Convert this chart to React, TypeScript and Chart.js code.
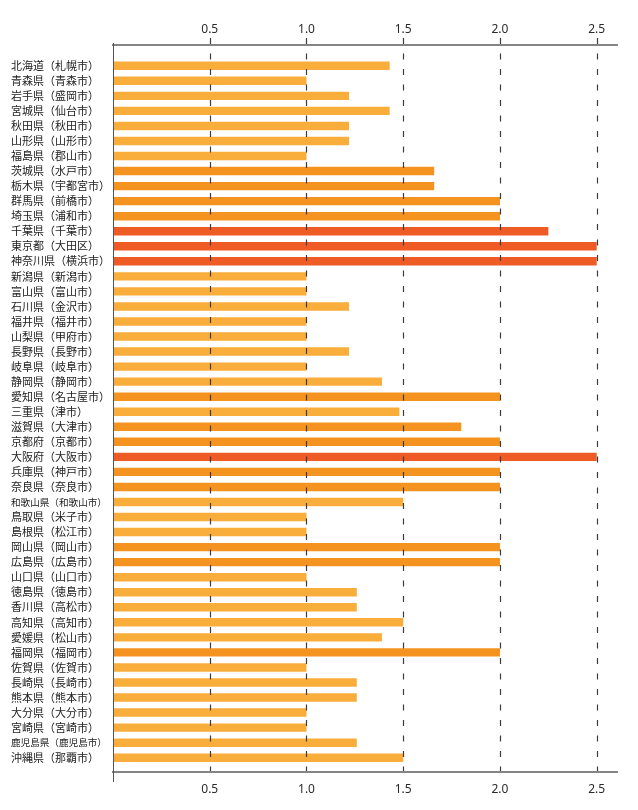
import React, { useEffect, useRef } from "react";
import { Chart, registerables } from "chart.js";

Chart.register(...registerables);

const prefectures: string[] = [
  "北海道（札幌市）", "青森県（青森市）", "岩手県（盛岡市）", "宮城県（仙台市）", "秋田県（秋田市）",
  "山形県（山形市）", "福島県（郡山市）", "茨城県（水戸市）", "栃木県（宇都宮市）", "群馬県（前橋市）",
  "埼玉県（浦和市）", "千葉県（千葉市）", "東京都（大田区）", "神奈川県（横浜市）", "新潟県（新潟市）",
  "富山県（富山市）", "石川県（金沢市）", "福井県（福井市）", "山梨県（甲府市）", "長野県（長野市）",
  "岐阜県（岐阜市）", "静岡県（静岡市）", "愛知県（名古屋市）", "三重県（津市）", "滋賀県（大津市）",
  "京都府（京都市）", "大阪府（大阪市）", "兵庫県（神戸市）", "奈良県（奈良市）", "和歌山県（和歌山市）",
  "鳥取県（米子市）", "島根県（松江市）", "岡山県（岡山市）", "広島県（広島市）", "山口県（山口市）",
  "徳島県（徳島市）", "香川県（高松市）", "高知県（高知市）", "愛媛県（松山市）", "福岡県（福岡市）",
  "佐賀県（佐賀市）", "長崎県（長崎市）", "熊本県（熊本市）", "大分県（大分市）", "宮崎県（宮崎市）",
  "鹿児島県（鹿児島市）", "沖縄県（那覇市）",
];

const values: number[] = [
  1.43, 1.0, 1.22, 1.43, 1.22,
  1.22, 1.0, 1.66, 1.66, 2.0,
  2.0, 2.25, 2.5, 2.5, 1.0,
  1.0, 1.22, 1.0, 1.0, 1.22,
  1.0, 1.39, 2.0, 1.48, 1.8,
  2.0, 2.5, 2.0, 2.0, 1.5,
  1.0, 1.0, 2.0, 2.0, 1.0,
  1.26, 1.26, 1.5, 1.39, 2.0,
  1.0, 1.26, 1.26, 1.0, 1.0,
  1.26, 1.5,
];

const xTicks: number[] = [0.5, 1.0, 1.5, 2.0, 2.5];

const Y_MIN = -1.38;
const Y_MAX = 46.95;

const COLOR_LOW = "#F9AD3B";
const COLOR_MID = "#F4931F";
const COLOR_HIGH = "#EF5B25";

const colorFor = (v: number) => (v > 2.05 ? COLOR_HIGH : v > 1.55 ? COLOR_MID : COLOR_LOW);

const decorPlugin = {
  id: "decor",
  afterDatasetsDraw(chart: any) {
    const ctx = chart.ctx;
    const xs = chart.scales.x;
    const xb = chart.scales.x2;
    const ys = chart.scales.y;
    const left = Math.round(ys.right);
    const right = Math.round(xs.right);
    const top = Math.round(xs.bottom);
    const bottom = Math.round(xb.top);
    ctx.save();
    ctx.strokeStyle = "#3c3c3c";
    ctx.lineWidth = 1.2;
    ctx.setLineDash([6, 9.5]);
    xTicks.forEach((v) => {
      const px = Math.round(xs.getPixelForValue(v)) + 0.5;
      ctx.beginPath();
      ctx.moveTo(px, top - 7);
      ctx.lineTo(px, bottom + 10);
      ctx.stroke();
    });
    ctx.setLineDash([]);
    ctx.fillStyle = "#858585";
    ctx.fillRect(left - 1, top - 1, right - left + 1, 2);
    ctx.fillRect(left - 1, bottom - 1, right - left + 1, 2);
    ctx.fillStyle = "#555555";
    ctx.fillRect(left, top - 2, 1, bottom - top + 12);
    ctx.restore();
  },
};

export default function App() {
  const ref = useRef<HTMLCanvasElement | null>(null);

  useEffect(() => {
    if (!ref.current) return;
    const xTickSetup = (scale: any) => {
      scale.ticks = xTicks.map((v) => ({ value: v }));
    };
    const chart = new Chart(ref.current, {
      type: "bar",
      data: {
        datasets: [
          {
            data: values.map((v, i) => ({ x: v, y: i })) as any,
            backgroundColor: values.map(colorFor),
            borderWidth: 0,
            barPercentage: 0.56,
            categoryPercentage: 1,
          },
        ],
      },
      options: {
        indexAxis: "y",
        responsive: false,
        animation: false,
        events: [],
        layout: { padding: { left: 11, right: 20, top: 0, bottom: 0 } },
        plugins: { legend: { display: false }, tooltip: { enabled: false } },
        scales: {
          x: {
            type: "linear",
            position: "top",
            min: 0,
            max: 2.61,
            grid: { display: false, drawTicks: false },
            border: { display: false },
            afterBuildTicks: xTickSetup,
            afterFit: (s: any) => {
              s.height = 45;
            },
            ticks: {
              padding: 7.8,
              color: "#2a2a2a",
              font: { family: "'Noto Sans', sans-serif", size: 12 },
              callback: (v: any) => Number(v).toFixed(1),
            },
          },
          x2: {
            type: "linear",
            position: "bottom",
            min: 0,
            max: 2.61,
            grid: { display: false, drawTicks: false },
            border: { display: false },
            afterBuildTicks: xTickSetup,
            afterFit: (s: any) => {
              s.height = 38;
            },
            ticks: {
              padding: 10.8,
              color: "#2a2a2a",
              font: { family: "'Noto Sans', sans-serif", size: 12 },
              callback: (v: any) => Number(v).toFixed(1),
            },
          },
          y: {
            type: "linear",
            reverse: true,
            offset: false,
            bounds: "data",
            min: Y_MIN,
            max: Y_MAX,
            grid: { display: false, drawTicks: false, offset: false },
            border: { display: false },
            afterBuildTicks: (scale: any) => {
              scale.ticks = prefectures.map((_, i) => ({ value: i }));
              scale.min = Y_MIN;
              scale.max = Y_MAX;
            },
            afterFit: (s: any) => {
              s.width = 102;
              s.paddingTop = 0;
              s.paddingBottom = 0;
            },
            ticks: {
              autoSkip: false,
              crossAlign: "far",
              padding: 0,
              color: "#222222",
              font: (ctx: any) => ({
                family: "'Noto Sans CJK JP', sans-serif",
                size: prefectures[ctx.index] && prefectures[ctx.index].length >= 10 ? 9.6 : 11,
              }),
              callback: (v: any) => prefectures[Math.round(Number(v))] ?? "",
            },
          },
        },
      },
      plugins: [decorPlugin],
    });
    return () => chart.destroy();
  }, []);

  return (
    <div style={{ position: "absolute", left: 0, top: 0, width: 638, height: 810, background: "#ffffff" }}>
      <canvas ref={ref} width={638} height={810} style={{ display: "block" }} />
    </div>
  );
}
